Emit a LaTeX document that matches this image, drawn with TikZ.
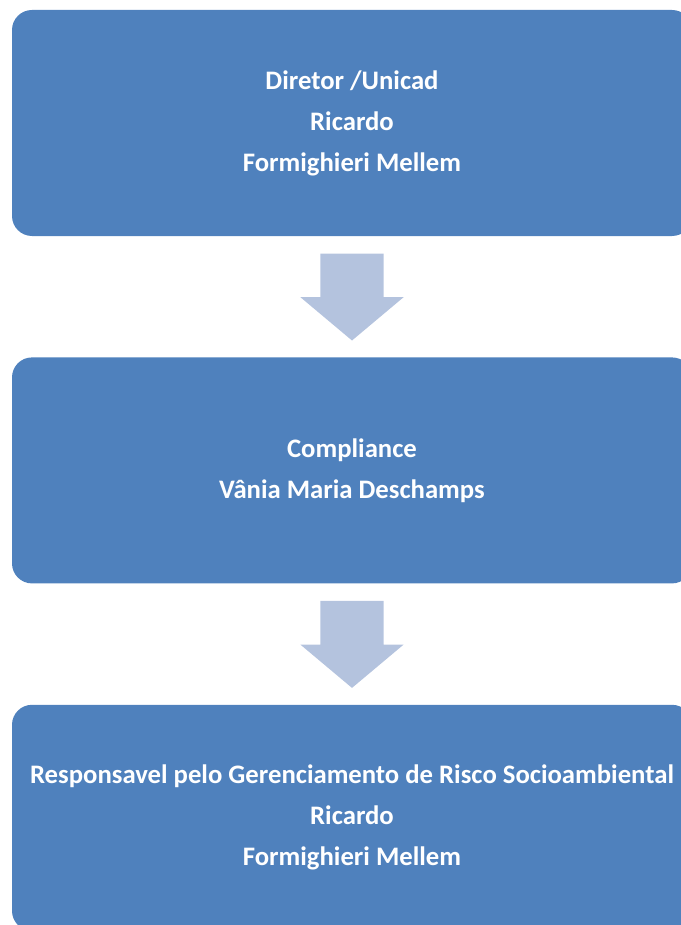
\documentclass[tikz,border=0pt]{standalone}
\usepackage{fontspec}
\setmainfont{Carlito}
\usepackage{xcolor}
\usepackage{tikz}
\usetikzlibrary{positioning}
\usetikzlibrary{calc}
\usetikzlibrary{shapes.arrows}
\definecolor{boxblue}{RGB}{79,129,189}
\definecolor{arrowblue}{RGB}{180,195,222}
\tikzset{%
  roleboxb/.style={rectangle,rounded corners=20pt,fill=boxblue,draw=none,minimum width=680pt,minimum height=226pt,
    inner sep=0pt,text=white,align=center,font=\fontsize{26.7}{41}\selectfont\bfseries},
  downarrowb/.style={single arrow,fill=arrowblue,draw=none,inner xsep=0pt,inner ysep=31.5pt,minimum height=87pt,minimum width=103pt,
    single arrow head extend=20pt,single arrow tip angle=100,rotate=-90}
}

\begin{document}
\begin{tikzpicture}[x=1pt,y=-1pt,node distance=121pt]
            \useasboundingbox (0,0) rectangle (680,925);
            \node[roleboxb](dir) at (352,123){Diretor /Unicad\\Ricardo\\Formighieri Mellem};
            \node[roleboxb,below=of dir](comp){Compliance\\Vânia Maria Deschamps};
            \node[roleboxb,below=of comp](resp){Responsavel pelo Gerenciamento de Risco Socioambiental\\Ricardo\\Formighieri Mellem};
            \node[downarrowb](arrone) at ($(dir.south)!0.5!(comp.north)+(0,-13)$){};
            \node[downarrowb](arrtwo) at ($(comp.south)!0.5!(resp.north)+(0,-13)$){};
        \end{tikzpicture}
\end{document}
